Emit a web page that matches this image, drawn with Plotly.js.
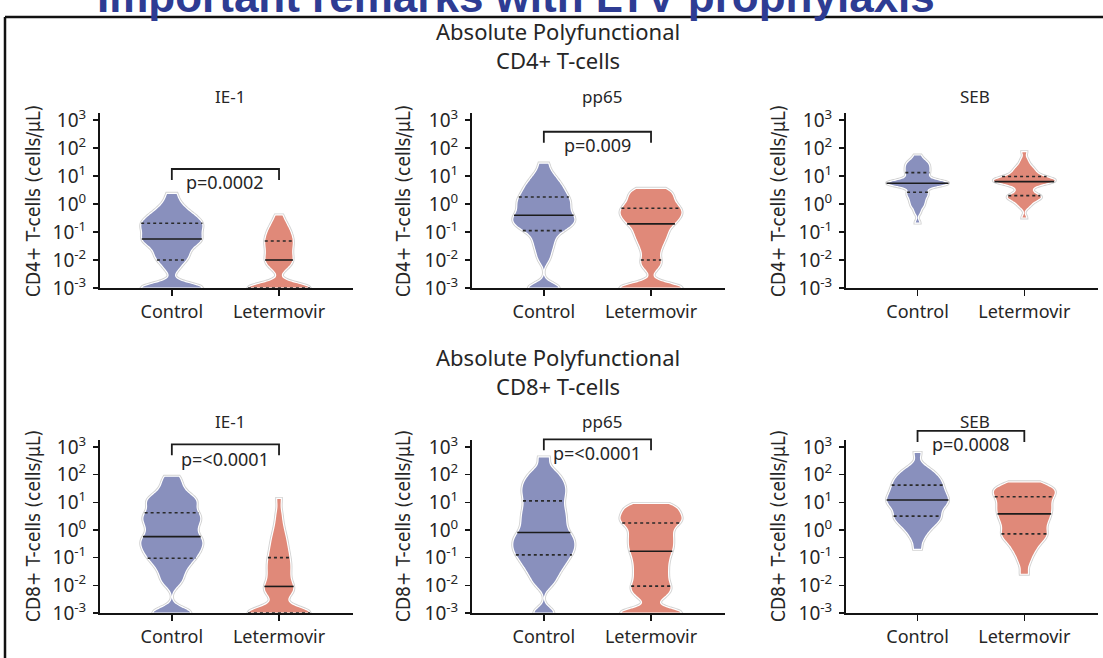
<!DOCTYPE html>
<html><head><meta charset="utf-8">
<script src="https://cdn.plot.ly/plotly-3.0.1.min.js"></script>
<style>html,body{margin:0;padding:0;background:#fff;}#chart{width:1103px;height:658px;}</style>
</head><body><div id="chart"></div>
<script>
// ---------------- DATA (log10 of cells/µL; 10^-3 = detection floor) ----------------
const categories = ['Control', 'Letermovir'];
const stimuli = ['IE-1', 'pp65', 'SEB'];
const cellTypes = ['CD4+', 'CD8+'];

const cd4Ie1Control = [-3,-3,-3,-3,-3,-3,-3,-3,-2.35,-2.15,-2.0,-1.92,-1.83,-1.73,-1.63,-1.53,-1.45,-1.39,-1.34,-1.29,-1.25,-1.19,-1.13,-1.07,-1.01,-0.95,-0.89,-0.83,-0.78,-0.73,-0.69,-0.63,-0.57,-0.51,-0.45,-0.38,-0.3,-0.2,-0.08,0.1,0.38];
const cd4Ie1Letermovir = [-3,-3,-3,-3,-3,-3,-3,-3,-3,-3,-3,-3,-3,-3,-3,-2.35,-2.25,-2.17,-2.1,-2.05,-2.0,-1.93,-1.86,-1.79,-1.72,-1.65,-1.58,-1.51,-1.45,-1.38,-1.32,-1.26,-1.2,-1.13,-1.06,-0.98,-0.9,-0.82,-0.72,-0.58,-0.39];
const cd4Pp65Control = [-3,-3,-3,-3,-2.0,-1.75,-1.55,-1.38,-1.23,-1.08,-0.95,-0.89,-0.83,-0.77,-0.71,-0.65,-0.6,-0.55,-0.5,-0.45,-0.4,-0.33,-0.26,-0.2,-0.13,-0.06,0.0,0.06,0.12,0.19,0.25,0.32,0.4,0.48,0.56,0.65,0.74,0.85,0.98,1.15,1.46];
const cd4Pp65Letermovir = [-3,-3,-3,-3,-3,-3,-3,-3,-2.3,-2.12,-2.0,-1.78,-1.6,-1.45,-1.32,-1.2,-1.1,-1.0,-0.9,-0.8,-0.71,-0.65,-0.59,-0.53,-0.47,-0.41,-0.35,-0.3,-0.25,-0.2,-0.15,-0.09,-0.02,0.05,0.12,0.2,0.28,0.36,0.44,0.5,0.56];
const cd4SebControl = [-0.68,-0.3,-0.12,-0.05,0.05,0.12,0.2,0.27,0.33,0.38,0.42,0.5,0.58,0.64,0.68,0.71,0.72,0.73,0.74,0.74,0.74,0.75,0.76,0.78,0.8,0.84,0.9,0.96,1.02,1.07,1.12,1.17,1.22,1.27,1.32,1.37,1.42,1.47,1.53,1.6,1.75];
const cd4SebLetermovir = [-0.5,-0.12,-0.02,0.06,0.12,0.17,0.21,0.24,0.26,0.28,0.3,0.36,0.44,0.52,0.6,0.66,0.71,0.75,0.77,0.79,0.8,0.81,0.82,0.83,0.85,0.87,0.89,0.91,0.93,0.95,0.98,1.02,1.07,1.12,1.17,1.22,1.28,1.35,1.45,1.6,1.87];
const cd8Ie1Control = [-3,-3,-3,-3,-1.95,-1.75,-1.55,-1.38,-1.24,-1.12,-1.02,-0.93,-0.84,-0.76,-0.68,-0.6,-0.52,-0.45,-0.38,-0.31,-0.24,-0.14,-0.04,0.06,0.15,0.24,0.32,0.4,0.48,0.55,0.62,0.72,0.85,0.95,1.03,1.1,1.18,1.3,1.48,1.7,1.94];
const cd8Ie1Letermovir = [-3,-3,-3,-3,-3,-3,-3,-3,-3,-3,-3,-3,-3,-3,-2.5,-2.38,-2.28,-2.2,-2.13,-2.08,-2.04,-1.93,-1.82,-1.71,-1.6,-1.5,-1.4,-1.3,-1.2,-1.1,-1.0,-0.88,-0.76,-0.64,-0.5,-0.35,-0.2,0.0,0.25,0.6,1.14];
const cd8Pp65Control = [-3,-3,-2.0,-1.78,-1.6,-1.45,-1.32,-1.2,-1.1,-1.0,-0.9,-0.82,-0.74,-0.66,-0.58,-0.5,-0.42,-0.34,-0.26,-0.18,-0.09,0.02,0.13,0.24,0.35,0.46,0.57,0.68,0.8,0.92,1.05,1.17,1.29,1.4,1.51,1.62,1.74,1.87,2.0,2.2,2.64];
const cd8Pp65Letermovir = [-3,-3,-3,-3,-3,-3,-2.5,-2.35,-2.22,-2.12,-2.03,-1.9,-1.77,-1.64,-1.51,-1.38,-1.25,-1.12,-1.0,-0.88,-0.77,-0.67,-0.57,-0.47,-0.37,-0.27,-0.17,-0.07,0.04,0.14,0.25,0.3,0.36,0.43,0.5,0.58,0.66,0.74,0.82,0.9,0.96];
const cd8SebControl = [-0.7,-0.35,-0.15,0.0,0.1,0.19,0.27,0.35,0.41,0.46,0.5,0.58,0.65,0.72,0.79,0.85,0.9,0.95,0.99,1.04,1.08,1.13,1.18,1.23,1.28,1.33,1.39,1.45,1.5,1.56,1.62,1.68,1.74,1.8,1.86,1.93,2.0,2.08,2.18,2.3,2.8];
const cd8SebLetermovir = [-1.6,-1.2,-0.95,-0.78,-0.64,-0.52,-0.42,-0.33,-0.25,-0.19,-0.14,-0.06,0.02,0.1,0.18,0.25,0.32,0.39,0.45,0.52,0.58,0.64,0.7,0.76,0.82,0.88,0.94,1.0,1.07,1.13,1.2,1.25,1.3,1.35,1.4,1.45,1.5,1.55,1.6,1.67,1.74];

const pValueLabels = ['p=0.0002', 'p=0.009', '', 'p=<0.0001', 'p=<0.0001', 'p=0.0008'];
const yTickExponents = [-3, -2, -1, 0, 1, 2, 3];

// ---------------- CONFIG (layout / style) ----------------
const panelData = [
  [cd4Ie1Control, cd4Ie1Letermovir], [cd4Pp65Control, cd4Pp65Letermovir], [cd4SebControl, cd4SebLetermovir],
  [cd8Ie1Control, cd8Ie1Letermovir], [cd8Pp65Control, cd8Pp65Letermovir], [cd8SebControl, cd8SebLetermovir]
];
const kdeBandwidth = [[0.18,0.18],[0.18,0.18],[0.1,0.1],[0.2,0.22],[0.2,0.18],[0.18,0.18]];
// bracket placement: [horizontal level, leg bottom, label centre] in log10 units
const bracketPlacement = [[1.25,0.86,0.80],[2.58,2.19,2.10],null,[3.09,2.70,2.55],[3.27,2.88,2.77],[3.58,3.18,3.12]];
const W = 1103, H = 658;
const colPx = [[100,353],[472,725],[846,1098]];
const rowPx = [[113,288],[440,613]];
const Y_RANGE = [-3, 3.25];
const X_RANGE = [-0.67, 1.69];
const VIOLIN_WIDTH = 0.58;
const fills = ['#8990bd', '#e08979'];
const textColor = '#262626';
const axisColor = '#141414';
const sansFont = "'Noto Sans', 'Open Sans', sans-serif";
const narrowFont = "'Liberation Sans Narrow', 'DejaVu Sans Condensed', 'Liberation Sans', sans-serif";
const FRAME_TOP = 17;

function makeKde(vals, bw) {
  const f = 1 / (vals.length * bw * Math.sqrt(2 * Math.PI));
  return x => { let s = 0; for (const v of vals) { const u = (x - v) / bw; s += Math.exp(-0.5 * u * u); } return f * s; };
}
function maxKde(vals, bw) {
  const lo = Math.min(...vals), hi = Math.max(...vals);
  const n = Math.ceil((hi - lo) / (bw / 3)); const step = (hi - lo) / n;
  const k = makeKde(vals, bw); let m = 0;
  for (let t = lo; t < hi + step / 2; t += step) m = Math.max(m, k(t));
  return m;
}
function quantile(vals, p) {
  const s = [...vals].sort((a, b) => a - b);
  const pos = (s.length - 1) * p, lo = Math.floor(pos), hi = Math.ceil(pos);
  return s[lo] + (s[hi] - s[lo]) * (pos - lo);
}

const traces = [], shapes = [], annotations = [];
const layout = {
  width: W, height: H, margin: {l: 0, r: 0, t: 0, b: 0},
  paper_bgcolor: '#fff', plot_bgcolor: 'rgba(0,0,0,0)', showlegend: false,
  violinmode: 'overlay', font: {family: sansFont, color: textColor}
};

for (let k = 0; k < 6; k++) {
  const row = Math.floor(k / 3), col = k % 3, id = k + 1;
  const xa = 'x' + id, ya = 'y' + id;
  const xaxis = {
    domain: [colPx[col][0] / W, colPx[col][1] / W], range: X_RANGE, type: 'category',
    categoryarray: categories, categoryorder: 'array', anchor: ya,
    showline: true, linewidth: 2, linecolor: axisColor, ticks: 'outside', ticklen: 6, tickwidth: 1.5, tickcolor: axisColor,
    tickfont: {family: sansFont, size: 18, color: textColor}, showgrid: false, zeroline: false, fixedrange: true
  };
  const yaxis = {
    domain: [1 - rowPx[row][1] / H, 1 - rowPx[row][0] / H], range: Y_RANGE, anchor: xa,
    tickvals: yTickExponents, ticktext: yTickExponents.map(e => '10<sup>' + e + '</sup>'),
    showline: true, linewidth: 2, linecolor: axisColor, ticks: 'outside', ticklen: 5, tickwidth: 1.5, tickcolor: axisColor,
    tickfont: {family: sansFont, size: 19, color: textColor}, ticklabelstandoff: 3,
    showgrid: false, zeroline: false, fixedrange: true
  };
  layout['xaxis' + (id === 1 ? '' : id)] = xaxis;
  layout['yaxis' + (id === 1 ? '' : id)] = yaxis;

  for (let g = 0; g < 2; g++) {
    const vals = panelData[k][g], bw = kdeBandwidth[k][g];
    const common = {
      type: 'violin', x0: categories[g], y: vals, xaxis: xa, yaxis: ya, name: categories[g],
      spanmode: 'hard', bandwidth: bw, width: VIOLIN_WIDTH, scalemode: 'width',
      points: false, box: {visible: false}, meanline: {visible: false},
      fillcolor: fills[g], hoverinfo: 'skip', showlegend: false
    };
    traces.push(Object.assign({}, common, {line: {color: '#d2d2d2', width: 3}}));
    traces.push(Object.assign({}, common, {line: {color: '#ffffff', width: 1.2}}));
    const kde = makeKde(vals, bw), mk = maxKde(vals, bw);
    [[0.25, 'dot'], [0.5, 'solid'], [0.75, 'dot']].forEach(([p, dash]) => {
      const q = quantile(vals, p);
      const hw = kde(q) / mk * VIOLIN_WIDTH / 2;
      shapes.push({type: 'line', xref: xa, yref: ya, x0: g - hw, x1: g + hw, y0: q, y1: q,
        line: {color: dash === 'solid' ? '#1c1c1c' : '#2a2a2a', width: 1.6, dash: dash}});
    });
  }

  // significance bracket
  const bp = bracketPlacement[k];
  if (bp && pValueLabels[k]) {
    const toDom = v => (v - Y_RANGE[0]) / (Y_RANGE[1] - Y_RANGE[0]);
    shapes.push({type: 'path', xref: xa, yref: ya + ' domain',
      path: `M0,${toDom(bp[1])} L0,${toDom(bp[0])} L1,${toDom(bp[0])} L1,${toDom(bp[1])}`,
      line: {color: '#1c1c1c', width: 1.8}});
    annotations.push({xref: xa, yref: ya, x: 0.5, y: bp[2], text: pValueLabels[k], showarrow: false,
      font: {family: sansFont, size: 18, color: textColor}, xanchor: 'center', yanchor: 'middle'});
  }

  // panel (stimulus) title
  const cx = (colPx[col][0] + colPx[col][1]) / 2;
  annotations.push({xref: 'paper', yref: 'paper', x: (cx + 3) / W, y: 1 - (row === 0 ? 96 : 421) / H,
    text: stimuli[col], showarrow: false, font: {family: sansFont, size: 17, color: textColor}, xanchor: 'center', yanchor: 'middle'});
  // y-axis title
  const axX = [33, 403, 778][col];
  annotations.push({xref: 'paper', yref: 'paper', x: axX / W, y: 1 - (row === 0 ? 201 : 526) / H,
    text: cellTypes[row] + ' T-cells (cells/μL)', textangle: -90, showarrow: false,
    font: {family: narrowFont, size: 19, color: textColor}, xanchor: 'center', yanchor: 'middle'});
}

// row headings
[0, 1].forEach(r => {
  annotations.push({xref: 'paper', yref: 'paper', x: 558 / W, y: 1 - (r === 0 ? 45.5 : 371.5) / H,
    text: 'Absolute Polyfunctional<br>' + cellTypes[r] + ' T-cells', showarrow: false,
    font: {family: sansFont, size: 22, color: textColor}, xanchor: 'center', yanchor: 'middle'});
});
// clipped slide heading above the frame
annotations.push({xref: 'paper', yref: 'paper', x: 516 / W, y: 1 + 4 / H,
  text: '<b>Important remarks with LTV prophylaxis</b>', showarrow: false,
  font: {family: "'Liberation Sans', Arial, sans-serif", size: 44, color: '#2e3c93'}, xanchor: 'center', yanchor: 'middle'});
// slide frame
shapes.push({type: 'line', xref: 'paper', yref: 'paper', x0: 5 / W, x1: 1, y0: 1 - FRAME_TOP / H, y1: 1 - FRAME_TOP / H, line: {color: '#111', width: 2.5}});
shapes.push({type: 'line', xref: 'paper', yref: 'paper', x0: 5 / W, x1: 5 / W, y0: 0, y1: 1 - FRAME_TOP / H, line: {color: '#111', width: 2.5}});

layout.shapes = shapes;
layout.annotations = annotations;
Plotly.newPlot('chart', traces, layout, {staticPlot: true, displayModeBar: false});
</script></body></html>
